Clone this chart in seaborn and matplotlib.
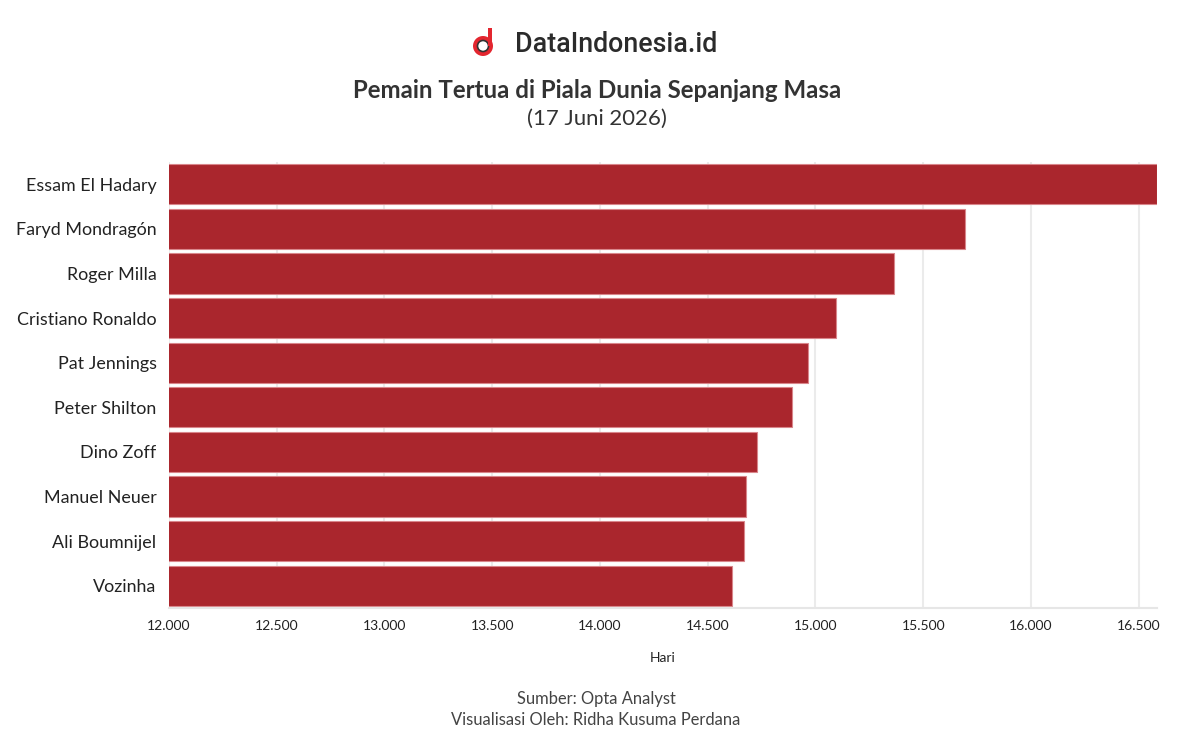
import matplotlib
matplotlib.use("Agg")
import matplotlib.pyplot as plt
import matplotlib.patches as mpatches
import seaborn as sns
import pandas as pd

# --- data ---
players = ['Essam El Hadary', 'Faryd Mondragón', 'Roger Milla', 'Cristiano Ronaldo',
           'Pat Jennings', 'Peter Shilton', 'Dino Zoff', 'Manuel Neuer',
           'Ali Boumnijel', 'Vozinha']
days = [16583, 15695, 15366, 15095, 14964, 14890, 14730, 14676, 14670, 14611]
xticks = [12000, 12500, 13000, 13500, 14000, 14500, 15000, 15500, 16000, 16500]
xtick_labels = ['12.000', '12.500', '13.000', '13.500', '14.000', '14.500',
                '15.000', '15.500', '16.000', '16.500']

df = pd.DataFrame({'Pemain': players, 'Hari': days})

sns.set_theme(style="white")
plt.rcParams['font.family'] = ['Lato', 'DejaVu Sans']

fig = plt.figure(figsize=(11.93, 7.45), dpi=100)
ax = fig.add_axes([169 / 1193, 1 - 608 / 745, (1157 - 169) / 1193, (608 - 162) / 745])

sns.barplot(data=df, x='Hari', y='Pemain', orient='h', color='#aa262d',
            width=0.9, saturation=1, edgecolor='#d9868b', linewidth=0.8, ax=ax)

ax.set_xlim(12000, 16585)
ax.set_xticks(xticks)
ax.set_xticklabels(xtick_labels, fontsize=10, color='#222222')
ax.tick_params(axis='x', length=5, color='#e6e6e6', width=1.2, pad=4)
ax.tick_params(axis='y', length=6, color='#e6e6e6', width=1.2, pad=3, labelsize=12.9,
               labelcolor='#222222')
ax.grid(axis='x', color='#ebebeb', linewidth=1.5)
ax.set_axisbelow(True)
for s in ['top', 'right', 'left']:
    ax.spines[s].set_visible(False)
ax.spines['bottom'].set_color('#e6e6e6')
ax.spines['bottom'].set_linewidth(1.5)
ax.set_ylabel('')
ax.set_xlabel('Hari', fontsize=10, color='#222222', labelpad=14)

# header: logo + title
fig.text(515 / 1193, 1 - 44 / 745, 'DataIndonesia.id', fontsize=19.3, color='#2b2b2b',
         family=['Roboto', 'DejaVu Sans'], ha='left', va='center', fontweight='medium')
lx, ly = 483 / 1193, 1 - 46 / 745
fig.patches.append(mpatches.Ellipse((lx, ly), 20 / 1193, 20 / 745, transform=fig.transFigure,
                                    facecolor='#e3262f', edgecolor='none'))
fig.patches.append(mpatches.Ellipse((lx, ly), 11 / 1193, 11 / 745, transform=fig.transFigure,
                                    facecolor='white', edgecolor='#333333', linewidth=1.2))
fig.patches.append(mpatches.Rectangle((lx + 5 / 1193, ly), 4 / 1193, 18 / 745,
                                      transform=fig.transFigure, facecolor='#e3262f',
                                      edgecolor='none'))

fig.text(597 / 1193, 1 - 90 / 745, 'Pemain Tertua di Piala Dunia Sepanjang Masa',
         fontsize=17.3, fontweight='bold', color='#333333', ha='center', va='center')
fig.text(597 / 1193, 1 - 119 / 745, '(17 Juni 2026)', fontsize=15.9, color='#333333',
         ha='center', va='center')

fig.text(596 / 1193, 1 - 699 / 745, 'Sumber: Opta Analyst', fontsize=11.9,
         color='#444444', ha='center', va='center')
fig.text(596 / 1193, 1 - 720 / 745, 'Visualisasi Oleh: Ridha Kusuma Perdana', fontsize=11.9,
         color='#444444', ha='center', va='center')

fig.savefig('out.png', dpi=100)
